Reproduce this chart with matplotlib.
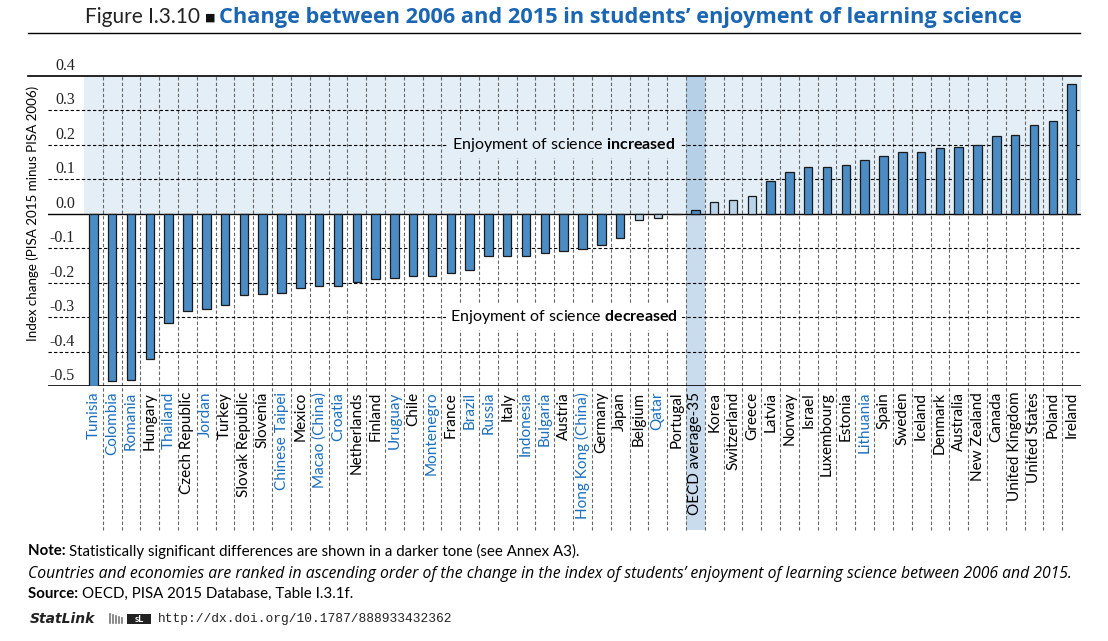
import matplotlib
matplotlib.use('Agg')
import matplotlib.pyplot as plt
from matplotlib.patches import Rectangle
from matplotlib.lines import Line2D

countries = ['Tunisia', 'Colombia', 'Romania', 'Hungary', 'Thailand', 'Czech Republic', 'Jordan', 'Turkey',
             'Slovak Republic', 'Slovenia', 'Chinese Taipei', 'Mexico', 'Macao (China)', 'Croatia', 'Netherlands',
             'Finland', 'Uruguay', 'Chile', 'Montenegro', 'France', 'Brazil', 'Russia', 'Italy', 'Indonesia',
             'Bulgaria', 'Austria', 'Hong Kong (China)', 'Germany', 'Japan', 'Belgium', 'Qatar', 'Portugal',
             'OECD average-35', 'Korea', 'Switzerland', 'Greece', 'Latvia', 'Norway', 'Israel', 'Luxembourg',
             'Estonia', 'Lithuania', 'Spain', 'Sweden', 'Iceland', 'Denmark', 'Australia', 'New Zealand', 'Canada',
             'United Kingdom', 'United States', 'Poland', 'Ireland']
changes = [-0.500, -0.485, -0.483, -0.421, -0.317, -0.282, -0.276, -0.265, -0.235, -0.233, -0.230, -0.215,
           -0.209, -0.209, -0.198, -0.189, -0.186, -0.180, -0.180, -0.172, -0.163, -0.122, -0.122, -0.122,
           -0.113, -0.108, -0.102, -0.090, -0.070, -0.017, -0.012, 0.000, 0.012, 0.035, 0.041, 0.052, 0.096,
           0.122, 0.137, 0.137, 0.142, 0.157, 0.169, 0.180, 0.180, 0.192, 0.195, 0.201, 0.227, 0.230, 0.259,
           0.270, 0.378]
not_significant = ['Belgium', 'Qatar', 'Portugal', 'Korea', 'Switzerland', 'Greece']
partners = ['Tunisia', 'Colombia', 'Romania', 'Thailand', 'Jordan', 'Chinese Taipei', 'Macao (China)', 'Croatia',
            'Uruguay', 'Montenegro', 'Brazil', 'Russia', 'Indonesia', 'Bulgaria', 'Hong Kong (China)', 'Qatar',
            'Lithuania']
yticks = [0.4, 0.3, 0.2, 0.1, 0.0, -0.1, -0.2, -0.3, -0.4, -0.5]

DARK = '#4b8cc5'
LIGHT = '#b9d4ea'
BLUE_TXT = '#1b6fc0'
TITLE_BLUE = '#1a66b3'
SHADE = '#e3eef6'

plt.rcParams['font.family'] = ['Lato', 'DejaVu Sans']
plt.rcParams['mathtext.fontset'] = 'custom'
plt.rcParams['mathtext.rm'] = 'Lato'
plt.rcParams['mathtext.bf'] = 'Lato:bold'

fig = plt.figure(figsize=(11.08, 6.41), dpi=100)
ax = fig.add_axes([48 / 1108, 1 - 386.3 / 641, (1081 - 48) / 1108, (386.3 - 76) / 641])
step = (1081 - 84) / 53
x0 = -0.5 - (84 - 48) / step
ax.set_xlim(x0, 52.5)
ax.set_ylim(-0.5, 0.4)
n = len(countries)
ybot = -0.5 - (530 - 386.3) / 344.0  # bottom of label area in data units

# background areas
ax.add_patch(Rectangle((-0.5, 0), n, 0.4, color=SHADE, lw=0, zorder=0))
io = countries.index('OECD average-35')
ax.add_patch(Rectangle((io - 0.5, 0), 1, 0.4, color='#b6d0e7', lw=0, zorder=0.5))
ax.add_patch(Rectangle((io - 0.5, ybot), 1, -ybot, color='#c9dcee', lw=0, zorder=0.5, clip_on=False))

# vertical dashed separators
for i in range(n - 1):
    ax.add_line(Line2D([i + 0.5, i + 0.5], [ybot, 0.4], color='#666666', lw=0.8, ls=(0, (3, 2)),
                       zorder=1, clip_on=False))

# horizontal grid lines
for v in yticks:
    if v in (0.4, 0.0, -0.5):
        continue
    ax.axhline(v, color='black', lw=0.8, ls=(0, (3, 2)), zorder=2)
ax.axhline(0.0, color='black', lw=1.0, zorder=2.5)
ax.axhline(-0.5, color='black', lw=1.2, zorder=2.5)
ax.add_line(Line2D([x0 - 20 / step, 52.5], [0.4, 0.4], color='black', lw=1.2, zorder=2.5, clip_on=False))

colors = [LIGHT if c in not_significant else DARK for c in countries]
ax.bar(range(n), changes, width=0.45, color=colors, edgecolor='#1a1a1a', linewidth=0.9, zorder=3)

for s in ax.spines.values():
    s.set_visible(False)
ax.set_yticks([])
ax.set_xticks(range(n))
ax.set_xticklabels(countries, rotation=90, fontsize=11, va='top', ha='center')
ax.tick_params(axis='x', length=0, pad=4)
for lab, c in zip(ax.get_xticklabels(), countries):
    lab.set_color(BLUE_TXT if c in partners else 'black')

# y tick labels sit above their grid lines
xl = x0 + (75 - 48) / step
for v in yticks:
    ax.text(xl, v + 0.006, f'{v:.1f}', ha='right', va='bottom', fontsize=11.5,
            family='Liberation Serif', color='#222222')
fig.text(33 / 1108, 1 - 213 / 641, 'Index change (PISA 2015 minus PISA 2006)', rotation=90,
         ha='center', va='center', fontsize=9.6)

xm = (564 - 84) / step - 0.5
ax.text(xm, 0.2, r'Enjoyment of science $\mathbf{increased}$', ha='center', va='center', fontsize=11.5,
        zorder=4, bbox=dict(facecolor=SHADE, edgecolor='none', pad=3))
ax.text(xm, -0.3, r'Enjoyment of science $\mathbf{decreased}$', ha='center', va='center', fontsize=11.5,
        zorder=4, bbox=dict(facecolor='white', edgecolor='none', pad=3))

inv = fig.transFigure.inverted()


def runs(y, parts, x=28):
    xx = x / 1108
    for txt, kw in parts:
        t = fig.text(xx, 1 - y / 641, txt, va='center', ha='left', **kw)
        fig.canvas.draw()
        xx = inv.transform((t.get_window_extent().x1, 0))[0]
    return xx


# title
runs(17, [('Figure I.3.10 ', dict(fontsize=15, color='#222222')),
          ('\u25a0 ', dict(fontsize=8, color='#111111')),
          ('Change between 2006 and 2015 in students\u2019 enjoyment of learning science',
           dict(fontsize=15.7, fontweight='bold', color=TITLE_BLUE, family='Open Sans'))], x=85)
fig.add_artist(Line2D([28 / 1108, 1080 / 1108], [1 - 33 / 641, 1 - 33 / 641], color='black', lw=1.0))

# notes
runs(551, [('Note: ', dict(fontsize=10.8, fontweight='bold')),
           ('Statistically significant differences are shown in a darker tone (see Annex A3).',
            dict(fontsize=10.8))])
fig.text(28 / 1108, 1 - 574 / 641,
         'Countries and economies are ranked in ascending order of the change in the index of students\u2019 '
         'enjoyment of learning science between 2006 and 2015.',
         fontsize=11.3, style='italic', family='Open Sans', va='center', ha='left')
runs(594, [('Source: ', dict(fontsize=10.8, fontweight='bold')),
           ('OECD, PISA 2015 Database, Table I.3.1f.', dict(fontsize=10.8))])
fig.text(30 / 1108, 1 - 619 / 641, 'StatLink', fontsize=10, fontweight='bold', style='italic',
         family='DejaVu Sans', va='center', ha='left', color='#222222')
# small StatLink icon
for k in range(5):
    fig.add_artist(Line2D([(110 + 3 * k) / 1108] * 2, [1 - 623 / 641, 1 - (614 + k) / 641],
                          color='#777777', lw=1.2))
fig.add_artist(Rectangle((127 / 1108, 1 - 624 / 641), 24 / 1108, 10 / 641, color='#222222', lw=0))
fig.text(139 / 1108, 1 - 619 / 641, 'sL', fontsize=7, fontweight='bold', color='white',
         ha='center', va='center')
fig.text(158 / 1108, 1 - 619 / 641, 'http://dx.doi.org/10.1787/888933432362', fontsize=9.3,
         family='Liberation Mono', va='center', ha='left', color='#222222')

fig.savefig('out.png', dpi=100)
